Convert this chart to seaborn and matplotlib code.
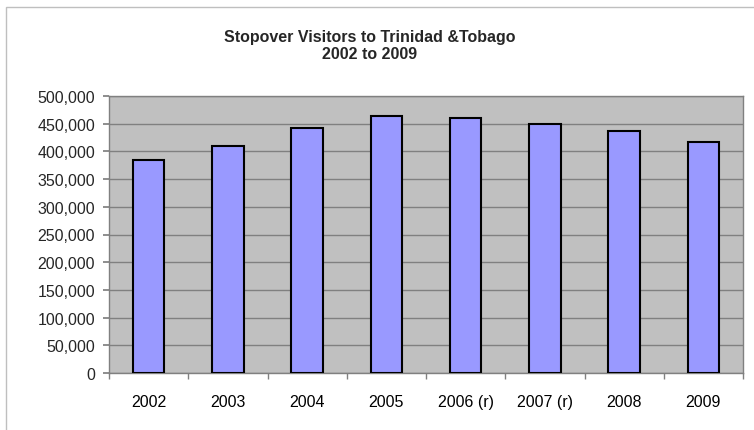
import matplotlib
matplotlib.use('Agg')
import matplotlib.pyplot as plt
import seaborn as sns
import pandas as pd
from matplotlib.ticker import FuncFormatter
from matplotlib.patches import Rectangle

# data
years = ['2002', '2003', '2004', '2005', '2006 (r)', '2007 (r)', '2008', '2009']
visitors = [384212, 409069, 442555, 463191, 460195, 449452, 437030, 417742]

df = pd.DataFrame({'year': years, 'visitors': visitors})

sns.set_theme(style='white')
plt.rcParams['font.family'] = ['Liberation Sans', 'DejaVu Sans']

fig = plt.figure(figsize=(7.54, 4.31), dpi=100)
ax = fig.add_axes([109 / 754, 57 / 431, 634 / 754, 277 / 431])

sns.barplot(data=df, x='year', y='visitors', color='#9999FF', saturation=1,
            edgecolor='black', linewidth=1.5, width=0.4, ax=ax, zorder=3)

ax.set_facecolor('#C0C0C0')
ax.set_ylim(0, 500000)
ax.set_yticks(range(0, 500001, 50000))
ax.yaxis.set_major_formatter(FuncFormatter(lambda v, p: f'{int(v):,}'))
ax.grid(axis='y', color='#808080', linewidth=1, zorder=0)
ax.set_axisbelow(True)
ax.set_xlabel('')
ax.set_ylabel('')
ax.set_xlim(-0.5, len(years) - 0.5)

# ticks between categories on the x axis
ax.set_xticks(range(len(years)))
ax.set_xticklabels(years)
ax.tick_params(axis='x', length=0, pad=15, labelsize=11.5, colors='black')
ax.set_xticks([i + 0.5 for i in range(-1, len(years))], minor=True)
ax.tick_params(axis='x', which='minor', length=4, color='#808080', direction='out', bottom=True)
ax.tick_params(axis='y', length=4, color='#808080', direction='out', left=True, labelsize=11.5, pad=6)

for side in ['top', 'right', 'left', 'bottom']:
    ax.spines[side].set_color('#808080')
    ax.spines[side].set_linewidth(1)

fig.text(370 / 754, 1 - 46 / 431, 'Stopover Visitors to Trinidad &Tobago\n2002 to 2009',
         ha='center', va='center', fontsize=11.5, fontweight='bold', linespacing=1.1)

# chart frame (only left and top edges inside the image)
fig.patches.append(Rectangle((6 / 754, -0.5), 2, 1.5 - 8 / 431, transform=fig.transFigure,
                             fill=False, edgecolor='#BFBFBF', linewidth=1))

fig.savefig('out.png', dpi=100)
